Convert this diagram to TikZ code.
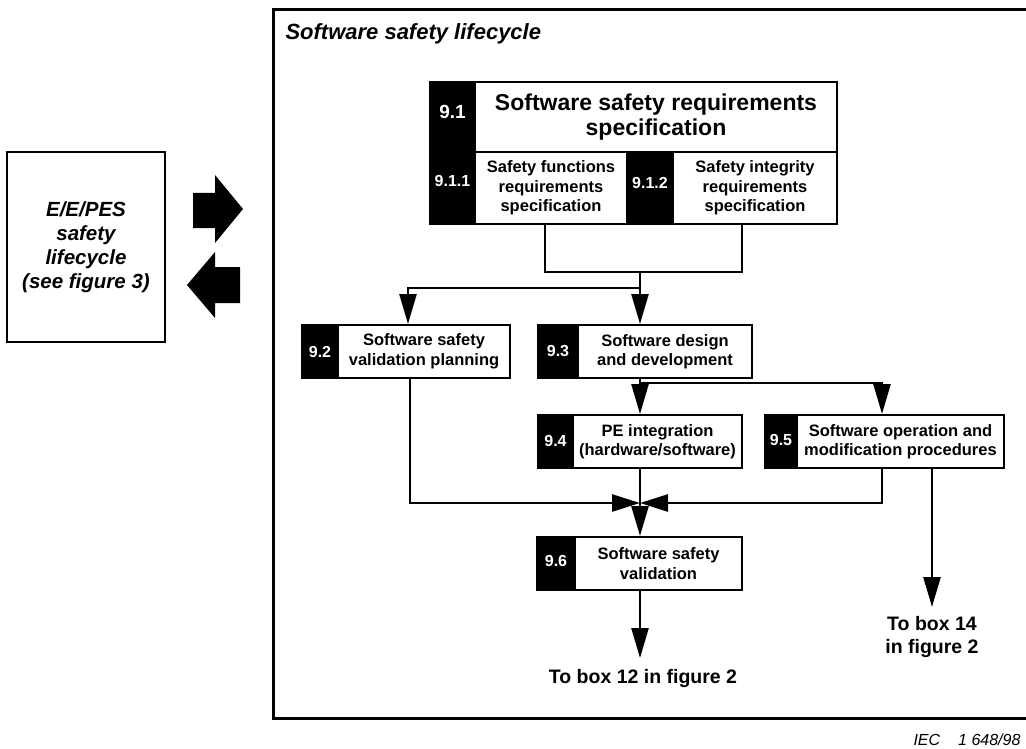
\documentclass[tikz,border=0pt]{standalone}
\usepackage{fontspec}
\setmainfont{Liberation Sans}
\usepackage{tikz}
\usetikzlibrary{calc,arrows.meta}
\tikzstyle{frame}=[line width=3pt]
\tikzstyle{numbox}=[rectangle,draw=black,fill=black,text=white,line width=2pt,
                    font=\fontsize{16}{18}\selectfont\bfseries,inner sep=0pt]
\tikzstyle{stepbox}=[rectangle,draw=black,fill=white,line width=2pt,align=center,
                     font=\fontsize{16.5}{19.5}\selectfont\bfseries,inner sep=0pt]
\tikzstyle{sidebox}=[rectangle,draw=black,line width=2.5pt,align=center,
                     minimum width=158pt,minimum height=190pt,
                     font=\fontsize{20.5}{24}\selectfont\bfseries\itshape]
\tikzstyle{link}=[line width=2.5pt]
\tikzstyle{flow}=[link,-{Triangle[length=30pt,width=17pt]}]
\tikzstyle{merge}=[link,-{Triangle[length=28pt,width=17pt]}]
\newcommand\numlabel[2]{\raisebox{#1pt}{#2}}

\begin{document}
\begin{tikzpicture}[x=1pt,y=-1pt]
    \useasboundingbox (0,0) rectangle (1026,749);
    % frame and title
    \draw [frame] (1026,10) -- (273,10) -- (273,718) -- (1026,718);
    \node [anchor=base west,font=\fontsize{22}{26}\selectfont\bfseries\itshape] (Title) at (282,40) {Software safety lifecycle};

    % E/E/PES box and block arrows
    \node [sidebox] (EEPES) at (86,247) {E/E/PES\\safety\\lifecycle\\(see figure 3)};
    \fill (193,193) -- (215,193) -- (215,175) -- (243,209) -- (215,243) -- (215,228) -- (193,228) -- cycle;
    \fill (240,267) -- (215,267) -- (215,252) -- (187,285) -- (215,318) -- (215,303) -- (240,303) -- cycle;

    % 9.1
    \node [numbox,minimum width=45pt,minimum height=70pt] (Req num) at (452.5,117) {\numlabel{10}{\fontsize{19}{21}\selectfont 9.1}};
    \node [stepbox,minimum width=362pt,minimum height=70pt,font=\fontsize{23}{25}\selectfont\bfseries] (Requirements) at (656,117) {Software safety requirements\\specification};
    \node [numbox,minimum width=45pt,minimum height=72pt] (Functions num) at (452.5,188) {\numlabel{15}{9.1.1}};
    \node [stepbox,minimum width=152pt,minimum height=72pt] (Functions) at (551,188) {Safety functions\\requirements\\specification};
    \node [numbox,minimum width=46pt,minimum height=72pt] (Integrity num) at (650,188) {\numlabel{11}{9.1.2}};
    \node [stepbox,minimum width=164pt,minimum height=72pt] (Integrity) at (755,188) {Safety integrity\\requirements\\specification};

    % 9.2 to 9.6
    \node [numbox,minimum width=36pt,minimum height=53pt] (Planning num) at (320,351.5) {\numlabel{0}{9.2}};
    \node [stepbox,minimum width=172pt,minimum height=53pt] (Planning) at (424,351.5) {Software safety\\validation planning};
    \node [numbox,minimum width=40pt,minimum height=53pt] (Design num) at (558,351.5) {\numlabel{0}{9.3}};
    \node [stepbox,minimum width=174pt,minimum height=53pt] (Design) at (665,351.5) {Software design\\and development};
    \node [numbox,minimum width=35pt,minimum height=53pt] (Integration num) at (555.5,441.5) {\numlabel{2}{9.4}};
    \node [stepbox,minimum width=169pt,minimum height=53pt] (Integration) at (657.5,441.5) {PE integration\\(hardware/software)};
    \node [numbox,minimum width=32pt,minimum height=53pt] (Operation num) at (781,441.5) {\numlabel{4}{9.5}};
    \node [stepbox,minimum width=207pt,minimum height=53pt] (Operation) at (900.5,441.5) {Software operation and\\modification procedures};
    \node [numbox,minimum width=38pt,minimum height=53pt] (Validation num) at (556,563.5) {\numlabel{6}{9.6}};
    \node [stepbox,minimum width=167pt,minimum height=53pt] (Validation) at (658.5,563.5) {Software safety\\validation};

    % outputs
    \node [anchor=base,font=\fontsize{19.5}{23}\selectfont\bfseries] (To 12) at (643,683) {To box 12 in figure 2};
    \node [align=center,font=\fontsize{19.5}{23}\selectfont\bfseries] (To 14) at (932,637) {To box 14\\in figure 2};
    \node [anchor=base east,font=\fontsize{16}{18}\selectfont\itshape] (IEC) at (1024,745) {IEC\hspace{18pt}1 648/98};

    % junctions
    \coordinate (j1) at (640,272);
    \coordinate (j2) at (640,288);
    \coordinate (j3) at (640,383);
    \coordinate (m) at (640,503);
    \coordinate (end12) at (640,658);
    \coordinate (end14) at (932,607);

    % connectors
    \draw [link] ([xshift=-6]Functions.south) |- (j1) -| ([xshift=-13]Integrity.south);
    \draw [link] (j1) -- (j2);
    \draw [flow] (j2) -| ([xshift=-16]Planning.north);
    \draw [flow] (j2) -- (Design.north -| j2);
    \draw [link] (Design.south -| j3) -- (j3);
    \draw [flow] (j3) -- (Integration.north -| j3);
    \draw [flow] (j3) -| ([xshift=-18.5]Operation.north);
    \draw [link] (Integration.south -| m) -- (m);
    \draw [merge] ([xshift=-14]Planning.south) |- (m);
    \draw [merge] ([xshift=-18.5]Operation.south) |- (m);
    \draw [flow] (m) -- (Validation.north -| m);
    \draw [flow] (Validation.south -| m) -- (end12);
    \draw [flow] ([xshift=31.5]Operation.south) -- (end14);
\end{tikzpicture}
\end{document}
